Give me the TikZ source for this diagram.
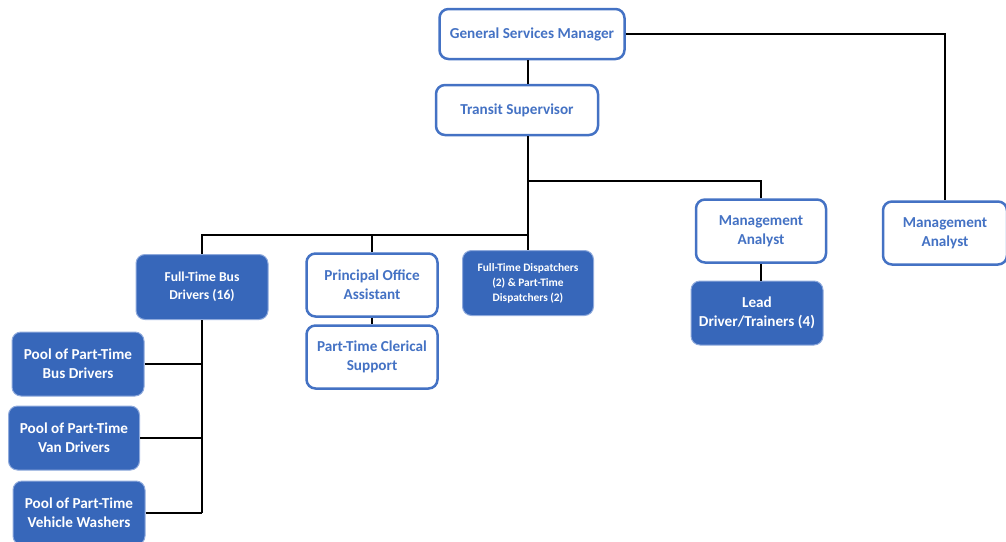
\documentclass[tikz,border=0pt]{standalone}
\usepackage{fontspec}
\setmainfont{Carlito}
\definecolor{boxblue}{RGB}{55,103,186}
\definecolor{lineblue}{RGB}{68,114,196}
\begin{document}
\begin{tikzpicture}[x=1pt, y=-1pt, font=\bfseries\fontsize{15.2}{19}\selectfont]
    \tikzstyle{plain} = [draw=lineblue, line width=2.5pt, rounded corners=9pt,
	fill=white, text=lineblue, align=center, inner sep=0pt]
    \tikzstyle{solid} = [draw=lineblue!60, line width=1pt, rounded corners=9pt,
	fill=boxblue, text=white, align=center, inner sep=0pt]
    \tikzstyle{link} = [draw=black, line width=2pt]

	\useasboundingbox (0,0) rectangle (1006,541);

	% top of the chart
	\node[plain, minimum width=185, minimum height=50] (GSM) at (532,34) {General Services Manager};
	\node[plain, minimum width=162, minimum height=50] (TS) at (517,110) {Transit Supervisor};
	\node[plain, minimum width=130, minimum height=63] (MA) at (761,231) {Management\\Analyst};
	\node[plain, minimum width=124, minimum height=63] (MB) at (945,233) {Management\\Analyst};
	\node[solid, minimum width=132, minimum height=64] (LDT) at (757,313) {Lead\\Driver/Trainers (4)};

	% second row
	\node[solid, minimum width=132, minimum height=65, font=\bfseries\fontsize{13.6}{18}\selectfont]
		(FTB) at (202,287) {Full-Time Bus\\Drivers (16)};
	\node[plain, minimum width=131, minimum height=63] (POA) at (372,285) {Principal Office\\Assistant};
	\node[plain, minimum width=131, minimum height=63] (PTC) at (372,357) {Part-Time Clerical\\Support};
	\node[solid, minimum width=131, minimum height=65, font=\bfseries\fontsize{11.4}{15}\selectfont]
		(FTD) at (528,283) {Full-Time Dispatchers\\(2) \& Part-Time\\Dispatchers (2)};

	% pools
	\node[solid, minimum width=132, minimum height=64] (PBD) at (78,364) {Pool of Part-Time\\Bus Drivers};
	\node[solid, minimum width=131, minimum height=64] (PVD) at (74,438) {Pool of Part-Time\\Van Drivers};
	\node[solid, minimum width=132, minimum height=64] (PVW) at (79,513) {Pool of Part-Time\\Vehicle Washers};

	\coordinate (UP) at (528,181);
	\coordinate (BUS) at (528,235);

	\path[link]
		(GSM.south -| FTD.north) edge (TS.north -| FTD.north)
		(TS.south -| FTD.north) edge (FTD.north)
		(GSM.east) edge[to path={-| (\tikztotarget)}] (MB.north)
		(UP) edge[to path={-| (\tikztotarget)}] (MA.north)
		(MA.south) edge (MA.south |- LDT.north)
		(BUS) edge[to path={-| (\tikztotarget)}] (FTB.north)
		(BUS -| POA.north) edge (POA.north)
		(POA.south) edge (PTC.north)
		(FTB.south) edge (FTB.south |- PVW.east)
		(PBD.east) edge (PBD.east -| FTB.south)
		(PVD.east) edge (PVD.east -| FTB.south)
		(PVW.east) edge (PVW.east -| FTB.south)
	;
\end{tikzpicture}
\end{document}
